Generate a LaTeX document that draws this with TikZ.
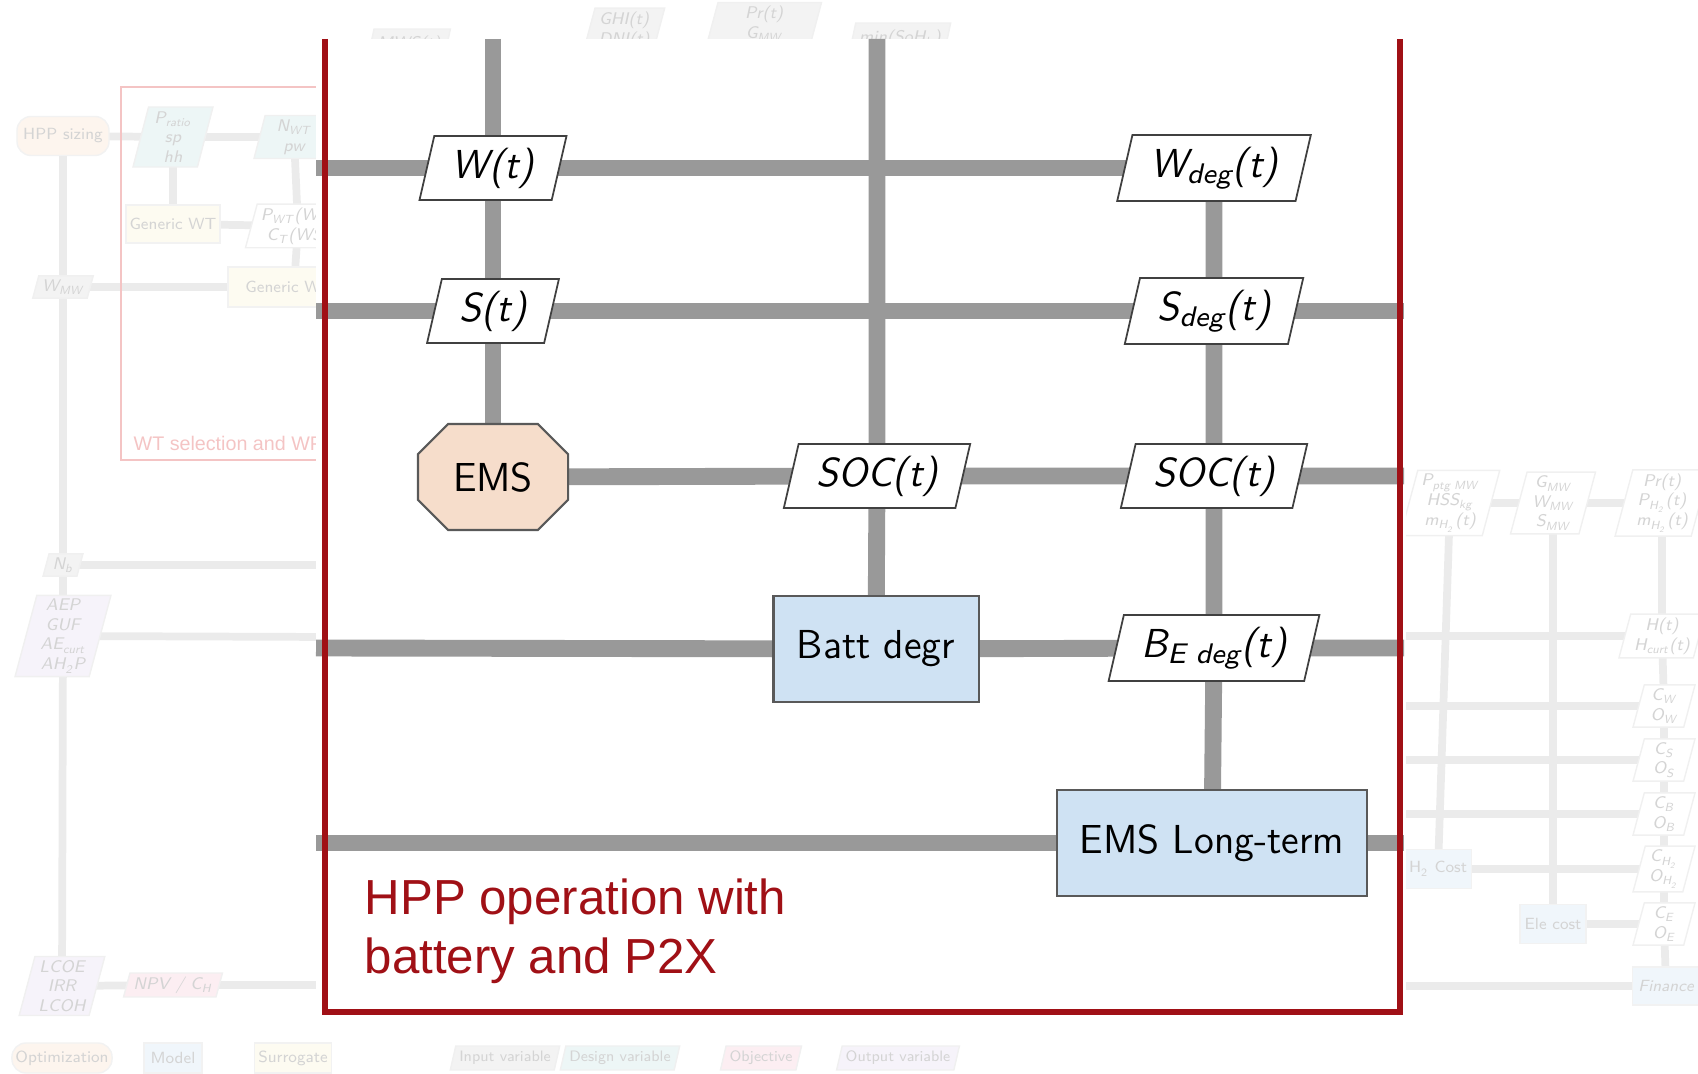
\documentclass[tikz,border=0pt]{standalone}
\usepackage{fontspec}
\newfontfamily\titlefont{Liberation Sans}
\usetikzlibrary{shapes.geometric,shapes.misc}

\definecolor{linkgray}{RGB}{153,153,153}
\definecolor{boxred}{RGB}{160,16,22}
\definecolor{emspeach}{RGB}{246,221,203}
\definecolor{modelblue}{RGB}{207,226,243}
% washed-out colours for the part outside the frame
\definecolor{fadeopt}{RGB}{253,245,238}
\definecolor{fademodel}{RGB}{240,246,251}
\definecolor{fadesurr}{RGB}{253,251,241}
\definecolor{fadeinput}{RGB}{243,243,243}
\definecolor{fadedesign}{RGB}{237,246,246}
\definecolor{fadeobj}{RGB}{252,238,242}
\definecolor{fadeout}{RGB}{246,243,250}
\definecolor{fadered}{RGB}{244,196,196}

\pgfdeclarelayer{fadelines}
\pgfdeclarelayer{fadenodes}
\pgfdeclarelayer{lines}
\pgfsetlayers{fadelines,fadenodes,lines,main}

\begin{document}
\begin{tikzpicture}[
  x=0.01cm, y=-0.01cm,
  font=\fontsize{11.5}{13.5}\selectfont\sffamily,
  var/.style={trapezium, trapezium left angle=77, trapezium right angle=103,
    trapezium stretches body, draw=black!75, fill=white, line width=0.5pt,
    minimum height=0.62cm, inner xsep=5pt,
    font=\fontsize{11.5}{13.5}\selectfont\sffamily\itshape},
  model/.style={rectangle, draw=black!65, fill=modelblue, line width=0.6pt,
    minimum height=1.06cm},
  ems/.style={chamfered rectangle, chamfered rectangle xsep=0.2cm,
    draw=black!65, fill=emspeach, line width=0.6pt,
    minimum width=1.5cm, minimum height=1.06cm},
  link/.style={draw=linkgray, line width=4.8pt},
  flink/.style={draw=black!8, line width=2.2pt},
  fvar/.style={trapezium, trapezium left angle=75, trapezium right angle=105,
    trapezium stretches body, draw=black!6, fill=#1, text=black!17,
    inner sep=1pt, align=center,
    font=\fontsize{4.8}{5.6}\selectfont\sffamily\itshape},
  fvar/.default=white,
  fblock/.style={rectangle, draw=black!5, fill=#1, text=black!17,
    inner sep=1pt, font=\fontsize{4.6}{5.4}\selectfont\sffamily},
  fblock/.default=fademodel,
  flegend/.style={font=\fontsize{4.3}{5}\selectfont\sffamily}
]
\clip (0,0) rectangle (1698,1074);

% ---- faded surroundings
\begin{pgfonlayer}{fadenodes}
  \node[fblock=fadeopt, rounded corners=4pt, minimum width=0.92cm, minimum height=0.39cm] (hppsz) at (63,136) {HPP sizing};
  \node[fvar=fadedesign, minimum width=0.8cm, minimum height=0.6cm] (pratio) at (173,137) {P\textsubscript{ratio}\\sp\\hh};
  \node[fvar=fadedesign, minimum width=0.8cm, minimum height=0.43cm] (nwt) at (294,137) {N\textsubscript{WT}\\pw};
  \node[fblock=fadesurr, minimum width=0.9cm, minimum height=0.38cm] (genwt) at (173,224) {Generic WT};
  \node[fvar, minimum width=1.05cm, minimum height=0.42cm] (pwt) at (298,226) {P\textsubscript{WT}(WS)\\C\textsubscript{T}(WS)};
  \node[fblock=fadesurr, minimum width=1.32cm, minimum height=0.4cm] (genwpp) at (294,287) {Generic WPP};
  \node[fvar=fadeinput, minimum width=0.5cm, minimum height=0.21cm] (wmw) at (63,287) {W\textsubscript{MW}};
  \node[fvar=fadeinput, minimum width=0.3cm, minimum height=0.21cm] (nb) at (63,565) {N\textsubscript{b}};
  \node[fvar=fadeout, minimum width=0.9cm, minimum height=0.76cm] (aep) at (63,636) {AEP\\GUF\\AE\textsubscript{curt}\\AH\textsubscript{2}P};
  \node[fvar=fadeout, minimum width=0.85cm, minimum height=0.59cm] (lcoe) at (62,986) {LCOE\\IRR\\LCOH};
  \node[fvar=fadeobj, minimum width=0.68cm, minimum height=0.21cm] (npv) at (173,985) {NPV / C\textsubscript{H}};
  \draw[fadered, line width=0.8pt] (121,87) rectangle (340,460);
  \node[anchor=west, inner sep=0pt, text=fadered, font=\titlefont\fontsize{5.6}{6.5}\selectfont] (wtsel) at (133,443) {WT selection and WPP};
  % top
  \node[fvar=fadeinput, minimum width=0.62cm, minimum height=0.3cm] (mws) at (409,44) {MWS(t)};
  \node[fvar=fadeinput, minimum width=0.8cm, minimum height=0.35cm] (ghi) at (624,30) {GHI(t)\\DNI(t)};
  \node[fvar=fadeinput, minimum width=1.15cm, minimum height=0.42cm] (prg) at (764,24) {Pr(t)\\G\textsubscript{MW}};
  \node[fvar=fadeinput, minimum width=0.95cm, minimum height=0.3cm] (soh) at (900,38) {min(SoH\textsubscript{b})};
  % right
  \node[fvar, minimum width=0.8cm, minimum height=0.59cm] (pptg) at (1450,503) {P\textsubscript{ptg MW}\\HSS\textsubscript{kg}\\m\textsubscript{H\textsubscript{2}}(t)};
  \node[fvar, minimum width=0.85cm, minimum height=0.59cm] (gmw) at (1553,503) {G\textsubscript{MW}\\W\textsubscript{MW}\\S\textsubscript{MW}};
  \node[fvar, minimum width=0.85cm, minimum height=0.59cm] (prt) at (1662,503) {Pr(t)\\P\textsubscript{H\textsubscript{2}}(t)\\m\textsubscript{H\textsubscript{2}}(t)};
  \node[fvar, minimum width=0.8cm, minimum height=0.42cm] (ht) at (1662,636) {H(t)\\H\textsubscript{curt}(t)};
  \node[fvar, minimum width=0.62cm, minimum height=0.42cm] (cw) at (1664,706) {C\textsubscript{W}\\O\textsubscript{W}};
  \node[fvar, minimum width=0.62cm, minimum height=0.42cm] (cs) at (1664,760) {C\textsubscript{S}\\O\textsubscript{S}};
  \node[fvar, minimum width=0.62cm, minimum height=0.42cm] (cb) at (1664,814) {C\textsubscript{B}\\O\textsubscript{B}};
  \node[fvar, minimum width=0.62cm, minimum height=0.42cm] (chy) at (1664,869) {C\textsubscript{H\textsubscript{2}}\\O\textsubscript{H\textsubscript{2}}};
  \node[fvar, minimum width=0.62cm, minimum height=0.42cm] (ce) at (1664,924) {C\textsubscript{E}\\O\textsubscript{E}};
  \node[fblock, minimum width=0.67cm, minimum height=0.38cm, font=\fontsize{4.6}{5.4}\selectfont\sffamily\itshape] (fin) at (1666,986) {Finance};
  \node[fblock, minimum width=0.67cm, minimum height=0.39cm] (hcost) at (1438,869) {H\textsubscript{2} Cost};
  \node[fblock, minimum width=0.66cm, minimum height=0.39cm] (ecost) at (1553,924) {Ele cost};
  % legend
  \node[fblock=fadeopt, rounded corners=4pt, minimum width=0.99cm, minimum height=0.3cm] (lgopt) at (62,1058) {Optimization};
  \node[fblock, minimum width=0.58cm, minimum height=0.3cm] (lgmod) at (173,1058) {Model};
  \node[fblock=fadesurr, minimum width=0.75cm, minimum height=0.3cm] (lgsur) at (293,1058) {Surrogate};
  \node[fvar=fadeinput, flegend, minimum width=0.92cm, minimum height=0.24cm] (lginp) at (505,1058) {Input variable};
  \node[fvar=fadedesign, flegend, minimum width=1.02cm, minimum height=0.24cm] (lgdes) at (620,1058) {Design variable};
  \node[fvar=fadeobj, flegend, minimum width=0.72cm, minimum height=0.24cm] (lgobj) at (761,1058) {Objective};
  \node[fvar=fadeout, flegend, minimum width=1.05cm, minimum height=0.24cm] (lgout) at (898,1058) {Output variable};
\end{pgfonlayer}

\begin{pgfonlayer}{fadelines}
  \coordinate (fr137) at (330,137);
  \coordinate (fr565) at (330,565);
  \coordinate (fr637) at (330,637);
  \coordinate (fr985) at (330,985);
  \coordinate (fl636) at (1400,636);
  \coordinate (fl706) at (1400,706);
  \coordinate (fl760) at (1400,760);
  \coordinate (fl814) at (1400,814);
  \coordinate (fl986) at (1400,986);
  \draw[flink] (hppsz.center) -- (wmw.center) -- (nb.center) -- (aep.center) -- (lcoe.center);
  \draw[flink] (hppsz.center) -- (pratio.center) -- (nwt.center) -- (fr137);
  \draw[flink] (pratio.center) -- (genwt.center) -- (pwt.center);
  \draw[flink] (nwt.center) -- (pwt.center) -- (genwpp.center) -- (wmw.center);
  \draw[flink] (nb.center) -- (fr565);
  \draw[flink] (aep.center) -- (fr637);
  \draw[flink] (lcoe.center) -- (npv.center) -- (fr985);
  \draw[flink] (pptg.center) -- (gmw.center) -- (prt.center);
  \draw[flink] (pptg.center) -- (hcost.center) -- (chy.center);
  \draw[flink] (gmw.center) -- (ecost.center) -- (ce.center);
  \draw[flink] (prt.center) -- (ht.center) -- (cw.center) -- (cs.center) -- (cb.center) -- (chy.center) -- (ce.center) -- (fin.center);
  \draw[flink] (fl636) -- (ht.center);
  \draw[flink] (fl706) -- (cw.center);
  \draw[flink] (fl760) -- (cs.center);
  \draw[flink] (fl814) -- (cb.center);
  \draw[flink] (fl986) -- (fin.center);
\end{pgfonlayer}

% ---- HPP operation block
\node[var] (w) at (493,168) {W(t)};
\node[var] (s) at (493,311) {S(t)};
\node[ems] (ems) at (493,477) {EMS};
\node[var] (socb) at (877,476) {SOC(t)};
\node[model, minimum width=2.05cm] (batt) at (876,649) {Batt degr};
\node[var] (wdeg) at (1214,168) {W\textsubscript{deg}(t)};
\node[var] (sdeg) at (1214,311) {S\textsubscript{deg}(t)};
\node[var] (socl) at (1214,476) {SOC(t)};
\node[var] (bdeg) at (1214,648) {B\textsubscript{E deg}(t)};
\node[model, minimum width=3.1cm] (emslt) at (1212,843) {EMS Long-term};

\coordinate (top1) at (493,39);
\coordinate (top2) at (877,39);
\coordinate (inW) at (316,168);
\coordinate (inS) at (316,311);
\coordinate (inB) at (316,648);
\coordinate (inL) at (316,843);
\coordinate (outS) at (1404,311);
\coordinate (outSOC) at (1404,476);
\coordinate (outB) at (1404,648);
\coordinate (outL) at (1404,843);

\begin{pgfonlayer}{lines}
  \fill[white] (316,39) rectangle (1406,1016);
  \draw[link] (top1) -- (w.center) -- (s.center) -- (ems.center);
  \draw[link] (top2) -- (socb.center) -- (batt.center);
  \draw[link] (wdeg.center) -- (sdeg.center) -- (socl.center) -- (bdeg.center) -- (emslt.center);
  \draw[link] (inW) -- (w.center) -- (wdeg.center);
  \draw[link] (inS) -- (s.center) -- (sdeg.center) -- (outS);
  \draw[link] (ems.center) -- (socb.center) -- (socl.center) -- (outSOC);
  \draw[link] (inB) -- (batt.center) -- (bdeg.center) -- (outB);
  \draw[link] (inL) -- (emslt.center) -- (outL);
\end{pgfonlayer}

% frame (its top edge lies outside the view)
\draw[boxred, line width=1.7pt] (325,39) -- (325,1012) -- (1400,1012) -- (1400,39);
\node[anchor=west, inner sep=0pt, align=left, text=boxred,
  font=\titlefont\fontsize{14}{16.8}\selectfont] (title) at (364,931)
  {HPP operation with\\battery and P2X};

\end{tikzpicture}
\end{document}
